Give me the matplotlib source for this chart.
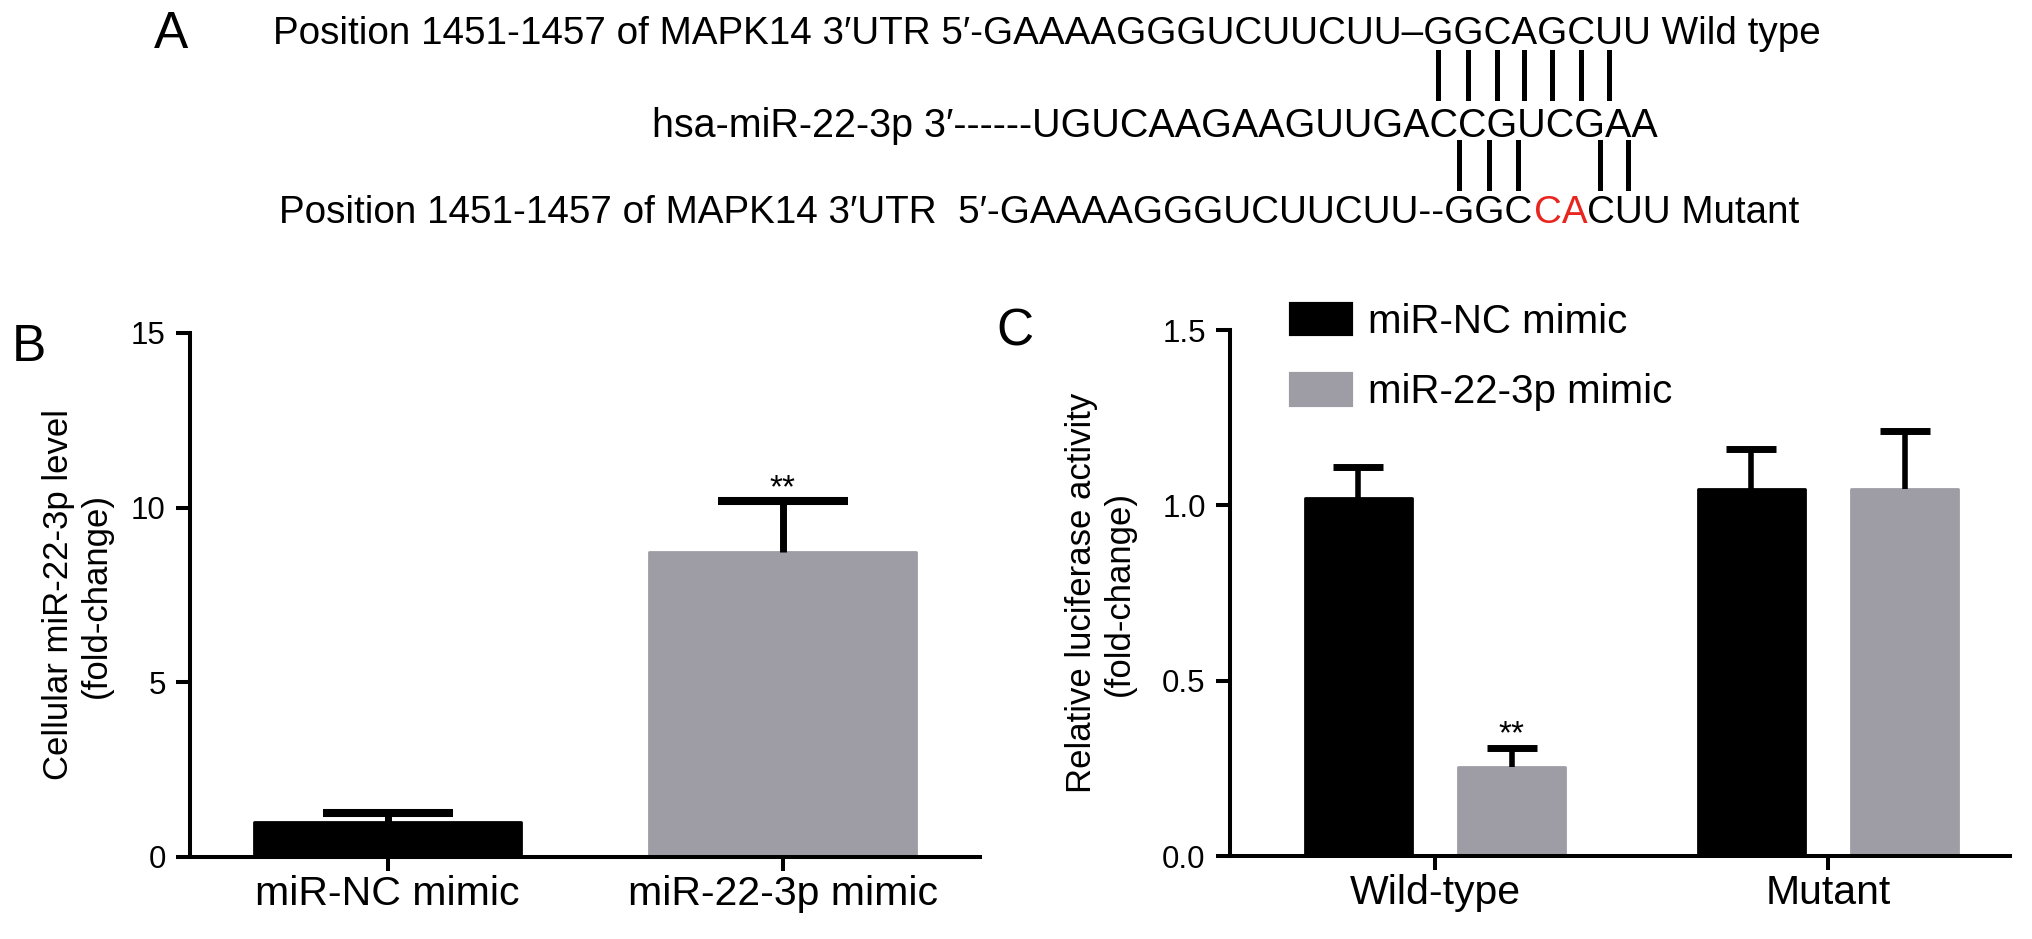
import matplotlib
matplotlib.use('Agg')
import matplotlib.pyplot as plt
from matplotlib.patches import Patch
from matplotlib.lines import Line2D
from matplotlib.font_manager import FontProperties
import numpy as np

plt.rcParams['font.family'] = ['Liberation Sans', 'DejaVu Sans']

W, H, DPI = 2032, 939, 100
BLACK = '#000000'
GRAY = '#9e9da5'
RED = '#e8251f'

# ---------------- data ----------------
b_groups = ['miR-NC mimic', 'miR-22-3p mimic']
b_means = [1.00, 8.74]
b_errs = [0.27, 1.45]
b_sig = ['', '**']
b_yticks = [0, 5, 10, 15]

c_groups = ['Wild-type', 'Mutant']
c_series = ['miR-NC mimic', 'miR-22-3p mimic']
c_nc_means = [1.02, 1.046]
c_nc_errs = [0.09, 0.115]
c_mir_means = [0.253, 1.046]
c_mir_errs = [0.056, 0.165]
c_mir_sig = ['**', '']
c_yticks = [0.0, 0.5, 1.0, 1.5]
c_ytick_labels = ['0.0', '0.5', '1.0', '1.5']

seq_wt = 'Position 1451-1457 of MAPK14 3\u2032UTR 5\u2032-GAAAAGGGUCUUCUU\u2013GGCAGCUU Wild type'
seq_mir = 'hsa-miR-22-3p 3\u2032------UGUCAAGAAGUUGACCGUCGAA'
seq_mut_parts = ['Position 1451-1457 of MAPK14 3\u2032UTR  5\u2032-GAAAAGGGUCUUCUU--GGC', 'CA', 'CUU Mutant']
seq_mut_colors = [BLACK, RED, BLACK]
wt_pair_offsets = [0, 1, 2, 3, 4, 5, 6]
mut_pair_offsets = [0, 1, 2, 5, 6]

# ---------------- figure ----------------
fig = plt.figure(figsize=(W / DPI, H / DPI), dpi=DPI)
fig.canvas.draw()
rend = fig.canvas.get_renderer()


def fx(px):
    return px / W


def fy(py):
    return 1 - py / H


def text_w(s, size):
    fp = FontProperties(family=['Liberation Sans', 'DejaVu Sans'], size=size)
    w, h, d = rend.get_text_width_height_descent(s, fp, ismath=False)
    return w


def char_center(s, i, x0, size):
    return x0 + text_w(s[:i + 1], size) - text_w(s[i], size) / 2


# ---- panel A: sequences ----
seq_fs = 20 * 1549 / text_w(seq_wt, 20)
mir_fs = 20 * 1005 / text_w(seq_mir, 20)

l1_x, l1_base = 273, 44
l2_x, l2_base = 652, 137
l3_x, l3_base = 279, 223

fig.text(fx(l1_x), fy(l1_base), seq_wt, fontsize=seq_fs, va='baseline', ha='left')
fig.text(fx(l2_x), fy(l2_base), seq_mir, fontsize=mir_fs, va='baseline', ha='left')

x = l3_x
full_mut = ''
for part, col in zip(seq_mut_parts, seq_mut_colors):
    fig.text(fx(x), fy(l3_base), part, fontsize=seq_fs, va='baseline', ha='left', color=col)
    full_mut += part
    x = l3_x + text_w(full_mut, seq_fs) + 1.5

wt_start = seq_wt.index('\u2013GGCAGCUU') + 1
for off in wt_pair_offsets:
    cx = char_center(seq_wt, wt_start + off, l1_x, seq_fs)
    fig.add_artist(Line2D([fx(cx), fx(cx)], [fy(52), fy(98)], color='black', lw=3.6,
                          transform=fig.transFigure))

mut_start = len(seq_mut_parts[0]) - 3
for off in mut_pair_offsets:
    cx = char_center(full_mut, mut_start + off, l3_x, seq_fs)
    fig.add_artist(Line2D([fx(cx), fx(cx)], [fy(142), fy(188)], color='black', lw=3.6,
                          transform=fig.transFigure))

# panel letters
fig.text(fx(154), fy(48), 'A', fontsize=37, va='baseline', ha='left')
fig.text(fx(12), fy(361), 'B', fontsize=37, va='baseline', ha='left')
fig.text(fx(996), fy(345), 'C', fontsize=37, va='baseline', ha='left')


def px_rect(l, r, top, bottom):
    return [l / W, 1 - bottom / H, (r - l) / W, (bottom - top) / H]


def style(ax):
    for s in ['top', 'right']:
        ax.spines[s].set_visible(False)
    for s in ['left', 'bottom']:
        ax.spines[s].set_linewidth(2.9)
    ax.tick_params(axis='both', direction='out', length=10, width=2.9, color='black')
    ax.tick_params(axis='y', labelsize=22.5, pad=7.5)
    ax.tick_params(axis='x', labelsize=29.5, pad=3)


def up_errorbar(ax, x, means, errs, lw, capsize, capthick):
    eb = ax.errorbar(x, means, yerr=[np.zeros(len(errs)), errs], fmt='none', ecolor='black',
                     elinewidth=lw, capsize=capsize, capthick=capthick, zorder=3)
    eb.lines[1][0].set_visible(False)  # hide lower caps
    return eb


# ---- panel B ----
axB = fig.add_axes(px_rect(190, 980, 333, 857))
style(axB)
xb = np.arange(len(b_groups))
axB.bar(xb, b_means, width=0.675, color=[BLACK, GRAY], edgecolor=[BLACK, GRAY],
        linewidth=2, joinstyle='round', zorder=2)
up_errorbar(axB, xb, b_means, b_errs, 5, 47, 5.8)
for xi, m, e, s in zip(xb, b_means, b_errs, b_sig):
    if s:
        axB.annotate(s, (xi, m + e), xytext=(0, 3), textcoords='offset points',
                     ha='center', va='baseline', fontsize=24)
axB.set_xlim(-0.5, 1.5)
axB.set_ylim(0, 15)
axB.set_yticks(b_yticks)
axB.set_xticks(xb)
axB.set_xticklabels(b_groups)
axB.set_ylabel('Cellular miR-22-3p level\n(fold-change)', fontsize=25, linespacing=1.2)
axB.yaxis.set_label_coords(-0.097, 0.5)

# ---- panel C ----
axC = fig.add_axes(px_rect(1230, 2010, 330, 856))
style(axC)
xc = np.arange(len(c_groups))
off, bw = 0.195, 0.272
axC.bar(xc - off, c_nc_means, width=bw, color=BLACK, edgecolor=BLACK,
        linewidth=2, joinstyle='round', zorder=2)
axC.bar(xc + off, c_mir_means, width=bw, color=GRAY, edgecolor=GRAY,
        linewidth=2, joinstyle='round', zorder=2)
up_errorbar(axC, xc - off, c_nc_means, c_nc_errs, 4, 18, 5)
up_errorbar(axC, xc + off, c_mir_means, c_mir_errs, 4, 18, 5)
for xi, m, e, s in zip(xc + off, c_mir_means, c_mir_errs, c_mir_sig):
    if s:
        axC.annotate(s, (xi, m + e), xytext=(0, 3), textcoords='offset points',
                     ha='center', va='baseline', fontsize=24)
axC.set_xlim(-0.522, 1.463)
axC.set_ylim(0, 1.5)
axC.set_yticks(c_yticks)
axC.set_yticklabels(c_ytick_labels)
axC.set_xticks(xc)
axC.set_xticklabels(c_groups)
axC.set_ylabel('Relative luciferase activity\n(fold-change)', fontsize=25, linespacing=1.2)
axC.yaxis.set_label_coords(-0.1205, 0.5)

handles = [Patch(facecolor=BLACK, edgecolor=BLACK, linewidth=3, joinstyle='round'),
           Patch(facecolor=GRAY, edgecolor=GRAY, linewidth=3, joinstyle='round')]
fig.legend(handles, c_series, loc='upper left', bbox_to_anchor=(fx(1291), fy(303)),
           frameon=False, fontsize=29, handlelength=1.5, handleheight=0.8,
           handletextpad=0.42, labelspacing=0.8, borderpad=0, borderaxespad=0)

fig.savefig('out.png', dpi=DPI)
